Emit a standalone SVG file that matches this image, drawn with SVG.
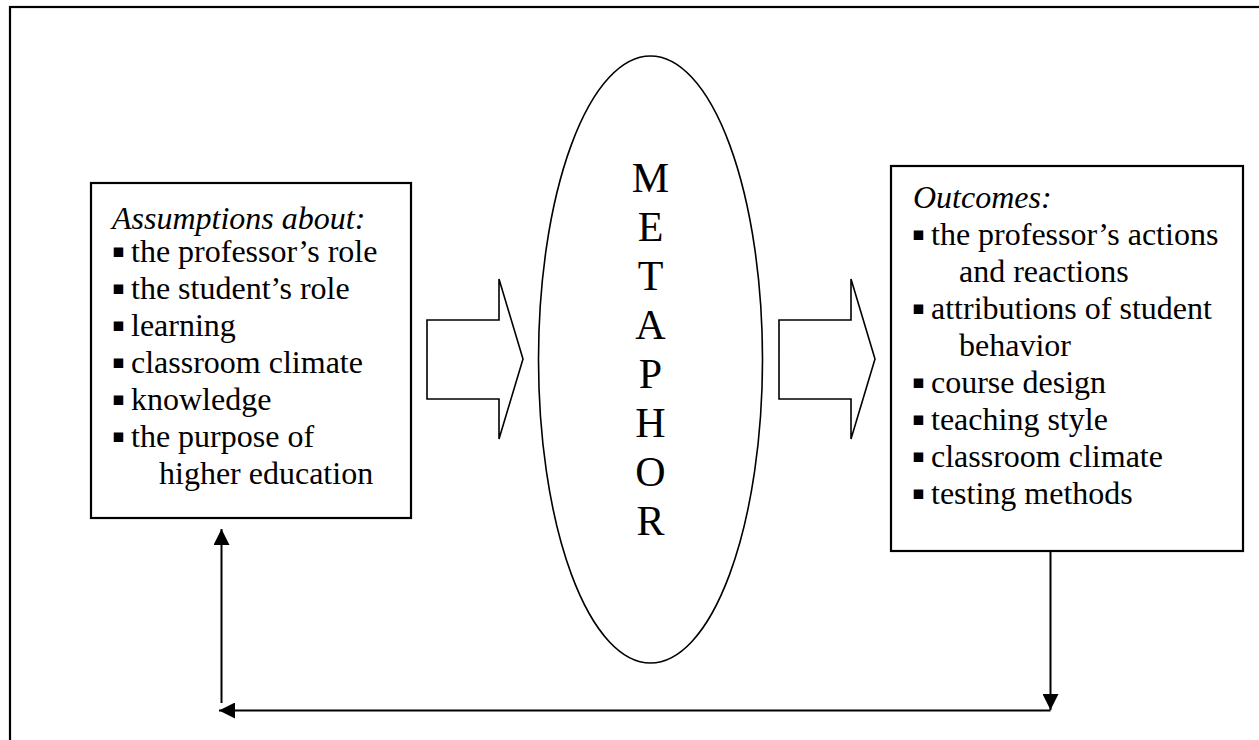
<svg xmlns="http://www.w3.org/2000/svg" width="1259" height="740" viewBox="0 0 1259 740">
<style>
.frame{fill:none;stroke:#000;stroke-width:2.2}
.box{fill:#fff;stroke:#000;stroke-width:2.2}
.shape{fill:#fff;stroke:#000;stroke-width:1.6}
.line{fill:none;stroke:#000;stroke-width:2}
.t{font-family:"Liberation Serif","Times New Roman",serif;font-size:32px;fill:#000}
.h{font-style:italic}
.b{font-family:"DejaVu Sans",sans-serif;font-size:19px}
.m{font-family:"Liberation Serif","Times New Roman",serif;font-size:42px;fill:#000;text-anchor:middle}
</style>
<defs>
<marker id="ah" viewBox="0 0 16 16" refX="16" refY="8" markerWidth="16" markerHeight="16" markerUnits="userSpaceOnUse" orient="auto">
<path d="M0,0 L16,8 L0,16 Z" fill="#000"/>
</marker>
</defs>
<rect class="frame" x="10" y="7" width="1270" height="760"/>
<g id="connectors">
<polyline class="line" points="1050.5,552 1050.5,710" marker-end="url(#ah)"/>
<polyline class="line" points="1050.5,710.5 219,710.5" marker-end="url(#ah)"/>
<polyline class="line" points="221.5,703 221.5,529" marker-end="url(#ah)"/>
<polygon id="arrow-left" class="shape" points="427,320 499,320 499,279 523,359 499,439 499,399 427,399"/>
<polygon id="arrow-right" class="shape" points="779,320 851,320 851,279 875,359 851,439 851,399 779,399"/>
</g>
<g id="assumptions">
<rect class="box" x="91" y="183" width="320" height="335"/>
<text class="t h" x="112" y="229">Assumptions about:</text>
<text class="t"><tspan class="b" x="112" y="257">▪</tspan><tspan x="131" y="262">the professor’s role</tspan></text>
<text class="t"><tspan class="b" x="112" y="294">▪</tspan><tspan x="131" y="299">the student’s role</tspan></text>
<text class="t"><tspan class="b" x="112" y="331">▪</tspan><tspan x="131" y="336">learning</tspan></text>
<text class="t"><tspan class="b" x="112" y="368">▪</tspan><tspan x="131" y="373">classroom climate</tspan></text>
<text class="t"><tspan class="b" x="112" y="405">▪</tspan><tspan x="131" y="410">knowledge</tspan></text>
<text class="t"><tspan class="b" x="112" y="442">▪</tspan><tspan x="131" y="447">the purpose of</tspan></text>
<text class="t" x="159" y="484">higher education</text>
</g>
<g id="metaphor">
<ellipse class="shape" cx="650.5" cy="359.5" rx="112" ry="303.5"/>
<text class="m" x="650.5" y="192">M</text>
<text class="m" x="650.5" y="241">E</text>
<text class="m" x="650.5" y="290">T</text>
<text class="m" x="650.5" y="339">A</text>
<text class="m" x="650.5" y="388">P</text>
<text class="m" x="650.5" y="437">H</text>
<text class="m" x="650.5" y="486">O</text>
<text class="m" x="650.5" y="535">R</text>
</g>
<g id="outcomes">
<rect class="box" x="891" y="166" width="352" height="385"/>
<text class="t h" x="913" y="208">Outcomes:</text>
<text class="t"><tspan class="b" x="912" y="240">▪</tspan><tspan x="931" y="245">the professor’s actions</tspan></text>
<text class="t" x="959" y="282">and reactions</text>
<text class="t"><tspan class="b" x="912" y="314">▪</tspan><tspan x="931" y="319">attributions of student</tspan></text>
<text class="t" x="959" y="356">behavior</text>
<text class="t"><tspan class="b" x="912" y="388">▪</tspan><tspan x="931" y="393">course design</tspan></text>
<text class="t"><tspan class="b" x="912" y="425">▪</tspan><tspan x="931" y="430">teaching style</tspan></text>
<text class="t"><tspan class="b" x="912" y="462">▪</tspan><tspan x="931" y="467">classroom climate</tspan></text>
<text class="t"><tspan class="b" x="912" y="499">▪</tspan><tspan x="931" y="504">testing methods</tspan></text>
</g>
</svg>
